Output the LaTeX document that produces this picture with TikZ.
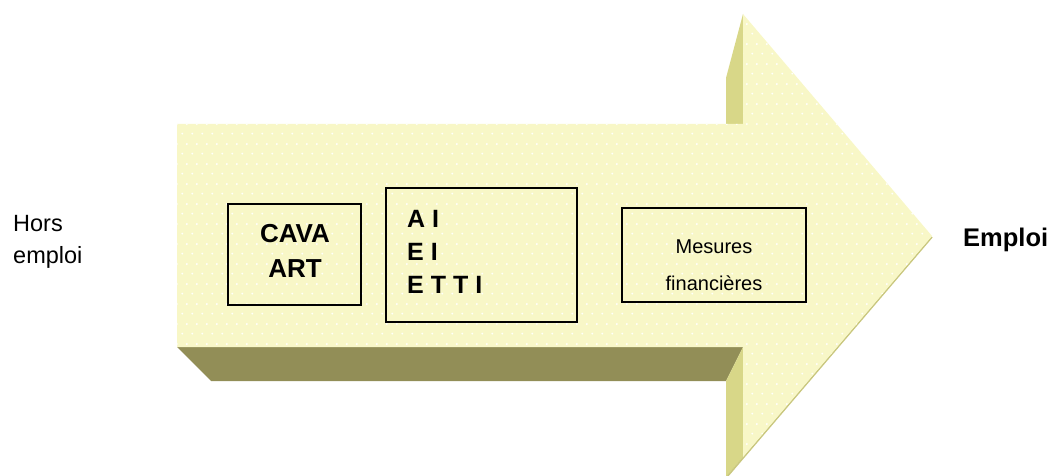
\documentclass[tikz,border=0pt]{standalone}
\usepackage{fontspec}
\setmainfont{Liberation Sans}
\usetikzlibrary{patterns}
\pgfdeclarepatternformonly{sparkle}{\pgfqpoint{0pt}{0pt}}{\pgfqpoint{10pt}{20pt}}{\pgfqpoint{10pt}{20pt}}{%
  \pgfpathcircle{\pgfqpoint{2.5pt}{2.5pt}}{1.1pt}%
  \pgfpathcircle{\pgfqpoint{7.5pt}{12.5pt}}{1.1pt}%
  \pgfusepath{fill}}
\definecolor{frontc}{HTML}{F8F7C7}
\definecolor{darkc}{HTML}{928E57}
\definecolor{sidec}{HTML}{D8D788}
\definecolor{edgec}{HTML}{C9C77E}
\begin{document}
\begin{tikzpicture}[x=1pt,y=-1pt,
  boxst/.style={draw=black,line width=1.6pt,rectangle,inner sep=0pt},
  bigtxt/.style={font=\fontsize{26}{34}\selectfont\bfseries,inner sep=0pt},
  midtxt/.style={font=\fontsize{25}{33}\selectfont\bfseries,inner sep=0pt,anchor=base west},
  smalltxt/.style={font=\fontsize{20}{24}\selectfont,inner sep=0pt,anchor=base},
  sidetxt/.style={font=\fontsize{23.5}{28}\selectfont,inner sep=0pt,anchor=base west}]
\useasboundingbox (0,0) rectangle (1053,476);
\begin{scope}
\clip (0,0) rectangle (1053,476);
% bottom (dark) face of shaft
\fill[darkc] (177,347) -- (743,347) -- (726,381) -- (211,381) -- cycle;
% side strips
\fill[sidec] (743,14) -- (726,78) -- (726,124) -- (743,124) -- cycle;
\fill[sidec] (743,347) -- (726,381) -- (726,477) -- (743,457) -- cycle;
% thin edge along lower diagonal
\draw[edgec,line width=1.6pt] (932,237) -- (726,478);
% front face
\path[fill=frontc] (177,124) -- (743,124) -- (743,14) -- (932,236) -- (743,457) -- (743,347) -- (177,347) -- cycle;
\path[pattern=sparkle,pattern color=white] (177,124) -- (743,124) -- (743,14) -- (932,236) -- (743,457) -- (743,347) -- (177,347) -- cycle;
\end{scope}
% boxes
\node[boxst,minimum width=133pt,minimum height=101pt] (cava) at (294.5,254.5) {};
\node[boxst,minimum width=191pt,minimum height=134pt] (ai) at (481.5,255) {};
\node[boxst,minimum width=184pt,minimum height=94pt] (mes) at (714,255) {};
% texts
\node[bigtxt,anchor=base] (t1) at (295,243) {CAVA};
\node[bigtxt,anchor=base] (t2) at (295,277) {ART};
\node[midtxt] (a1) at (407,227) {A I};
\node[midtxt] (a2) at (407,260) {E I};
\node[midtxt] (a3) at (407,293) {E T T I};
\node[smalltxt] (m1) at (714,254) {Mesures};
\node[smalltxt] (m2) at (714,290) {financières};
\node[sidetxt] (h1) at (13,232) {Hors};
\node[sidetxt] (h2) at (13,263) {emploi};
\node[font=\fontsize{25.5}{30}\selectfont\bfseries,inner sep=0pt,anchor=base west] (emp) at (963,247) {Emploi};
\end{tikzpicture}
\end{document}
